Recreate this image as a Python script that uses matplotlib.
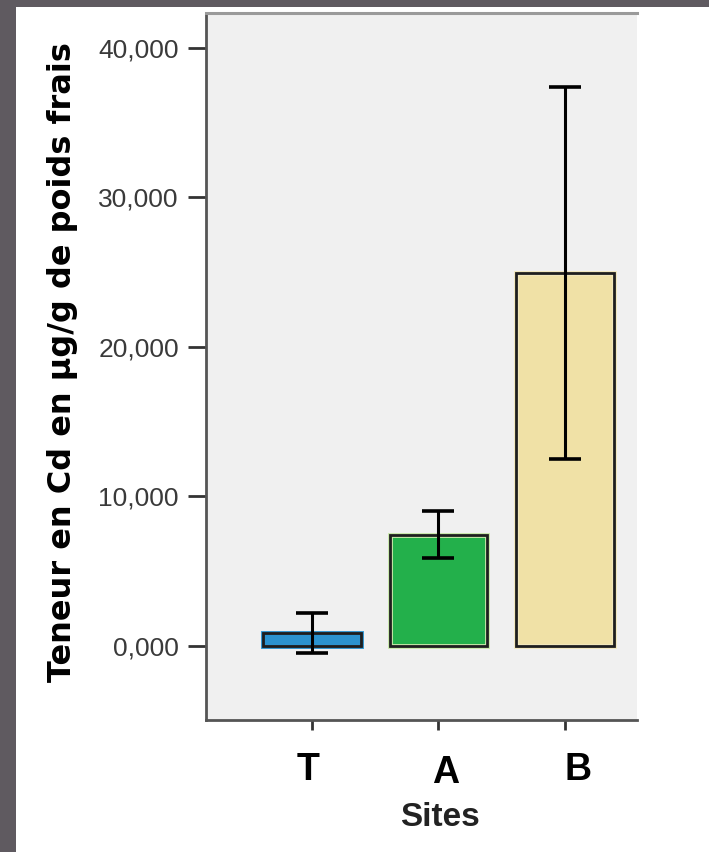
import matplotlib
matplotlib.use('Agg')
import matplotlib.pyplot as plt
import matplotlib.transforms as mtransforms
from matplotlib.patches import Rectangle
from matplotlib.ticker import FuncFormatter

# data
sites = ['T', 'A', 'B']
means = [0.87, 7.45, 24.95]
err_low = [-0.45, 5.9, 12.5]
err_high = [2.2, 9.0, 37.4]
bar_colors = ['#2b93d0', '#23b04b', '#f0e1a6']
yticks = [0, 10, 20, 30, 40]

plt.rcParams['font.family'] = ['Liberation Sans', 'DejaVu Sans']

fig = plt.figure(figsize=[7.09, 8.52], dpi=100)
fig.patch.set_facecolor('white')

# dark slide border on top and left
fig.patches.append(Rectangle((0, 0), 16 / 709, 1, transform=fig.transFigure,
                             facecolor='#5f5a60', edgecolor='none', zorder=-1))
fig.patches.append(Rectangle((0, 1 - 7 / 852), 1, 7 / 852, transform=fig.transFigure,
                             facecolor='#5f5a60', edgecolor='none', zorder=-1))

ax = fig.add_axes([206 / 709, 1 - 720 / 852, 431 / 709, 707 / 852])
ax.set_facecolor('#f0f0f0')

x = list(range(len(sites)))
ax.bar(x, means, width=0.77, color=bar_colors, edgecolor=['#2b93d0', '#c8e8a8', '#f3e8bd'],
       linewidth=3.5, zorder=2)
ax.bar(x, means, width=0.77, fill=False, edgecolor='#1e1e1e', linewidth=2, zorder=3)

yerr = [[m - lo for m, lo in zip(means, err_low)], [hi - m for m, hi in zip(means, err_high)]]
ax.errorbar(x, means, yerr=yerr, fmt='none', ecolor='black', elinewidth=2.2,
            capsize=11.5, capthick=2.6, zorder=4)

ax.set_xlim(-0.838, 2.57)
ax.set_ylim(-4.95, 42.34)

ax.set_yticks(yticks)
ax.yaxis.set_major_formatter(FuncFormatter(lambda v, p: ('%.3f' % v).replace('.', ',')))
ax.tick_params(axis='y', length=13, width=2, color='#333333', pad=6.5,
               labelsize=19, labelcolor='#3a3a3a')

ax.set_xticks(x)
ax.set_xticklabels(sites, fontsize=27, fontweight='bold')
ax.tick_params(axis='x', length=7, width=2, color='#333333', pad=16)
shifts = [-4, 7, 13]
shifts_y = [0, -3, 0]
for lab, dx, dy in zip(ax.get_xticklabels(), shifts, shifts_y):
    lab.set_transform(lab.get_transform() +
                      mtransforms.ScaledTranslation(dx / 100, dy / 100, fig.dpi_scale_trans))

for s in ['left', 'bottom']:
    ax.spines[s].set_color('#555555')
    ax.spines[s].set_linewidth(2)
ax.spines['top'].set_color('#9a9a9a')
ax.spines['top'].set_linewidth(2.2)
ax.spines['right'].set_visible(False)

ax.set_ylabel('Teneur en Cd en µg/g de poids frais', fontsize=23, fontweight='bold',
              family=['DejaVu Sans'])
ax.yaxis.set_label_coords(-0.334, 0.506)
ax.yaxis.label.set_va('center')

ax.set_xlabel('Sites', fontsize=24, fontweight='bold', color='#222222')
ax.xaxis.set_label_coords(0.543, -0.138)
ax.xaxis.label.set_va('center')

fig.savefig('out.png', dpi=100)
